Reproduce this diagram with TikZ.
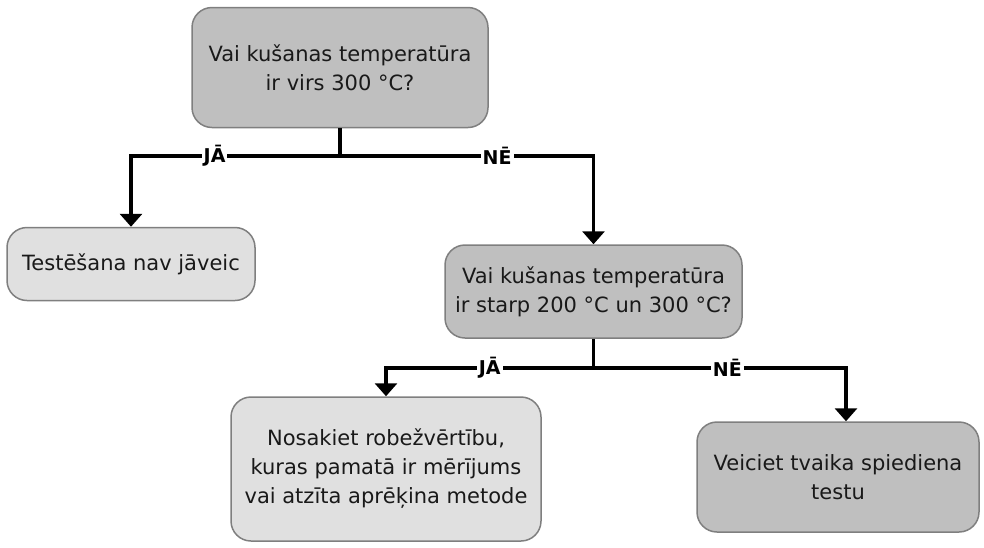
\documentclass[tikz,border=0pt]{standalone}
\usepackage{fontspec}
\setmainfont{DejaVu Sans}
\usetikzlibrary{arrows.meta}
\definecolor{darkbox}{HTML}{BFBFBF}
\definecolor{lightbox}{HTML}{E0E0E0}
\definecolor{boxedge}{HTML}{7F7F7F}
\begin{document}
\begin{tikzpicture}[x=1pt,y=-1pt,
  box/.style={draw=boxedge,line width=1.5pt,rounded corners=20pt,align=center,
    font=\fontsize{21}{29}\selectfont,text=black!90,inner sep=0pt},
  qbox/.style={box,fill=darkbox},
  abox/.style={box,fill=lightbox},
  link/.style={line width=3.8pt,-{Triangle[width=22pt,length=13pt]}},
  stem/.style={line width=3.8pt},
  lbl/.style={fill=white,inner sep=2pt,font=\fontsize{19}{22}\selectfont\bfseries}]
\useasboundingbox (0,0) rectangle (984,547);

% decision and outcome boxes
\node[qbox,minimum width=296pt,minimum height=120pt] (q1) at (340,67.5)
  {Vai kušanas temperatūra\\ir virs 300 °C?};
\node[abox,minimum width=248pt,minimum height=73pt] (a1) at (131,264)
  {Testēšana nav jāveic};
\node[qbox,minimum width=297pt,minimum height=93pt] (q2) at (593.5,291.5)
  {Vai kušanas temperatūra\\ir starp 200 °C un 300 °C?};
\node[abox,minimum width=310pt,minimum height=144pt] (a2) at (386,469)
  {Nosakiet robežvērtību,\\kuras pamatā ir mērījums\\vai atzīta aprēķina metode};
\node[qbox,minimum width=282pt,minimum height=110pt] (a3) at (838,477)
  {Veiciet tvaika spiediena\\testu};

% branch points
\coordinate (j1) at (340,156);
\coordinate (j2) at (593.5,368);

% connectors
\draw[stem] (q1.south) -- (j1);
\draw[link] (j1) -| node[lbl,pos=0.3] {JĀ} (a1.north);
\draw[link] (j1) -| node[lbl,pos=0.31] {NĒ} (q2.north);
\draw[stem] (q2.south) -- (j2);
\draw[link] (j2) -| node[lbl,pos=0.25] {JĀ} (a2.north);
\draw[link] (j2) -| node[lbl,pos=0.265] {NĒ} ([xshift=8pt]a3.north);
\end{tikzpicture}
\end{document}
